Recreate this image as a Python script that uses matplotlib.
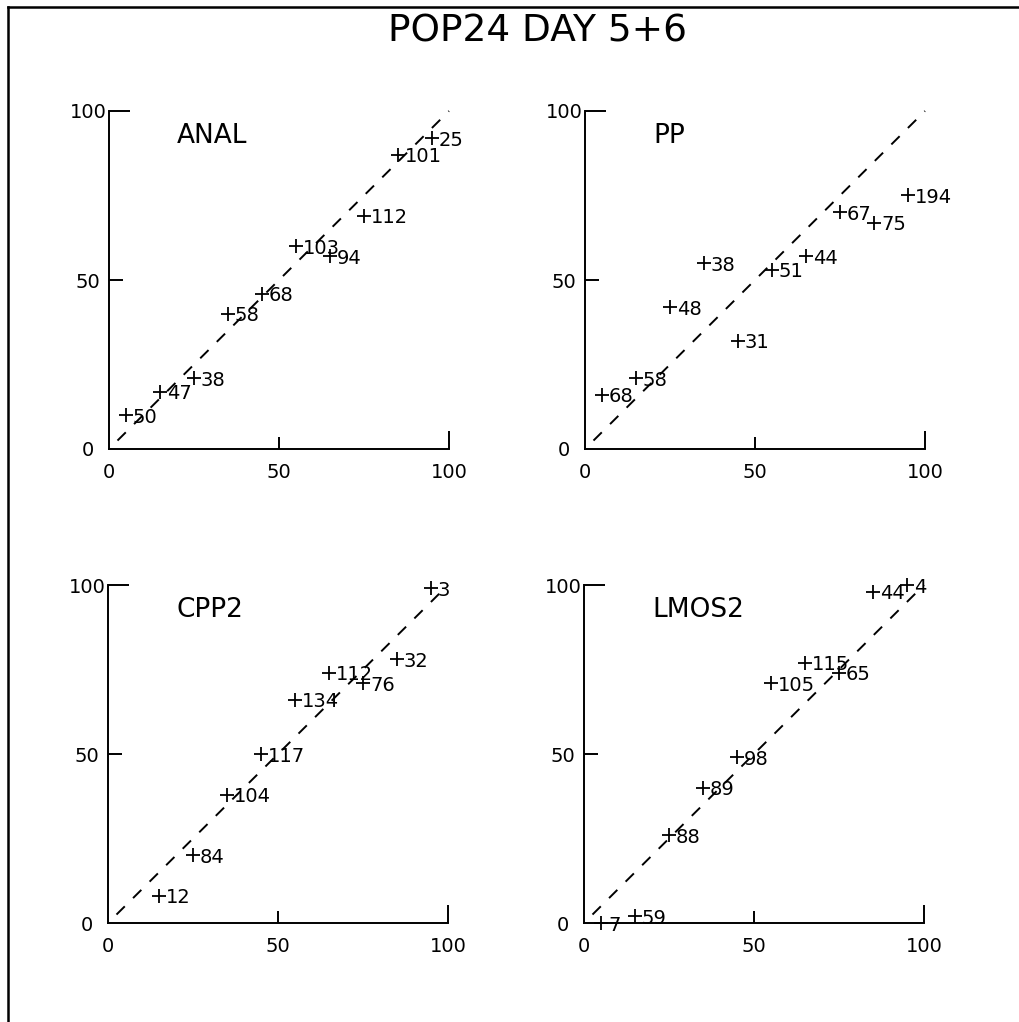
import matplotlib
matplotlib.use("Agg")
import matplotlib.pyplot as plt
from matplotlib.lines import Line2D

plt.rcParams['font.family'] = ['DejaVu Sans']

title = "POP24 DAY 5+6"
panel_names = ["ANAL", "PP", "CPP2", "LMOS2"]
tick_values = [0, 50, 100]
tick_labels = ["0", "50", "100"]

anal_x = [5, 15, 25, 35, 45, 55, 65, 75, 85, 95]
anal_y = [10, 17, 21, 40, 46, 60, 57, 69, 87, 92]
anal_n = ["50", "47", "38", "58", "68", "103", "94", "112", "101", "25"]

pp_x = [5, 15, 25, 35, 45, 55, 65, 75, 85, 95]
pp_y = [16, 21, 42, 55, 32, 53, 57, 70, 67, 75]
pp_n = ["68", "58", "48", "38", "31", "51", "44", "67", "75", "194"]

cpp2_x = [15, 25, 35, 45, 55, 65, 75, 85, 95]
cpp2_y = [8, 20, 38, 50, 66, 74, 71, 78, 99]
cpp2_n = ["12", "84", "104", "117", "134", "112", "76", "32", "3"]

lmos2_x = [5, 15, 25, 35, 45, 55, 65, 75, 85, 95]
lmos2_y = [0, 2, 26, 40, 49, 71, 77, 74, 98, 100]
lmos2_n = ["7", "59", "88", "89", "98", "105", "115", "65", "44", "4"]

diag = [2.5, 100]

W, H = 1019, 1022
fig = plt.figure(figsize=(W / 100, H / 100), dpi=100)

# panel rectangles in pixels: left, top, width, height
rects = [(109, 111, 340, 338), (585, 111, 340, 338),
         (108, 585, 340, 338), (584, 585, 340, 338)]
datasets = [(anal_x, anal_y, anal_n), (pp_x, pp_y, pp_n),
            (cpp2_x, cpp2_y, cpp2_n), (lmos2_x, lmos2_y, lmos2_n)]

for (l, t, w, h), (xs, ys, ns), name in zip(rects, datasets, panel_names):
    ax = fig.add_axes([l / W, 1 - (t + h) / H, w / W, h / H])
    ax.set_xlim(0, 100)
    ax.set_ylim(0, 100)
    for s in ("top", "right"):
        ax.spines[s].set_visible(False)
    for s in ("left", "bottom"):
        ax.spines[s].set_linewidth(1.4)
    ax.set_xticks(tick_values)
    ax.set_xticklabels(tick_labels)
    ax.set_yticks(tick_values)
    ax.set_yticklabels(tick_labels)
    ax.tick_params(axis='x', direction='in', length=9, width=1.4,
                   labelsize=14, pad=10)
    ax.tick_params(axis='y', direction='in', length=10, width=1.4,
                   labelsize=14, pad=15)
    xt = ax.xaxis.get_major_ticks()
    yt = ax.yaxis.get_major_ticks()
    xt[0].tick1line.set_visible(False)
    yt[0].tick1line.set_visible(False)
    xt[2].tick1line.set_markersize(13)
    yt[2].tick1line.set_markersize(15)
    for lab in ax.get_yticklabels():
        lab.set_ha('center')

    ax.plot(diag, diag, color='black', lw=1.4, linestyle=(0, (6, 6)),
            clip_on=False)
    ax.plot(xs, ys, linestyle='none', marker='+', ms=9.5, mew=1.3,
            color='black', clip_on=False)
    for x, y, n in zip(xs, ys, ns):
        ax.annotate(n, (x, y), xytext=(5, 0), textcoords='offset points',
                    ha='left', va='center_baseline', fontsize=14)
    ax.text(20, 92.5, name, ha='left', va='center', fontsize=19)

fig.text(538 / W, 1 - 31 / H, title, ha='center', va='center', fontsize=27)

# outer frame (top and left edges)
fig.add_artist(Line2D([8 / W, 8 / W], [0, 1 - 7 / H], transform=fig.transFigure,
                      color='black', lw=1.8))
fig.add_artist(Line2D([8 / W, 1], [1 - 7 / H, 1 - 7 / H], transform=fig.transFigure,
                      color='black', lw=1.8))

fig.savefig("out.png", dpi=100, facecolor='white')
